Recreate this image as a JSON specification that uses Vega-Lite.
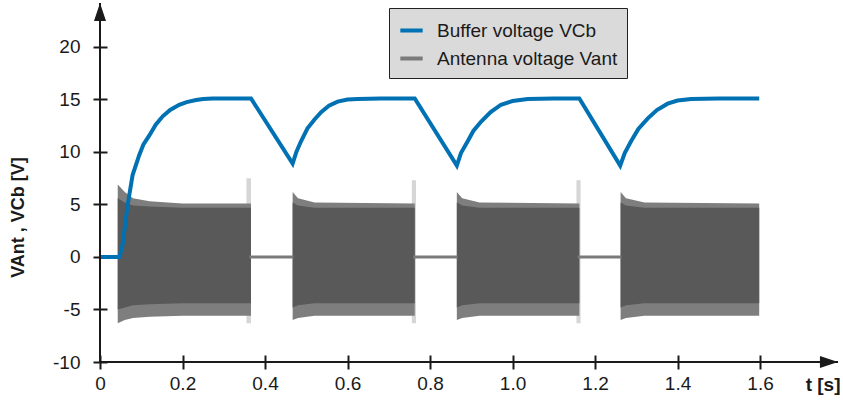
{
  "$schema": "https://vega.github.io/schema/vega-lite/v6.json",
  "width": 738,
  "height": 359,
  "autosize": {"type": "none"},
  "padding": {"left": 100, "top": 3, "right": 5, "bottom": 42},
  "background": "white",
  "config": {
    "view": {"stroke": null},
    "font": "Liberation Sans",
    "axis": {"grid": false, "domain": false, "tickColor": "#1a1a1a", "tickWidth": 2, "labelColor": "#1a1a1a", "labelFontSize": 19, "labelFont": "Liberation Sans"}
  },
  "datasets": {
    "blue": [
      {"t": 0, "v": 0, "series": "Buffer voltage VCb"},
      {"t": 0.047, "v": 0, "series": "Buffer voltage VCb"},
      {"t": 0.055, "v": 1.2, "series": "Buffer voltage VCb"},
      {"t": 0.06, "v": 2.8, "series": "Buffer voltage VCb"},
      {"t": 0.067, "v": 4.95, "series": "Buffer voltage VCb"},
      {"t": 0.079, "v": 7.8, "series": "Buffer voltage VCb"},
      {"t": 0.095, "v": 9.7, "series": "Buffer voltage VCb"},
      {"t": 0.105, "v": 10.7, "series": "Buffer voltage VCb"},
      {"t": 0.12, "v": 11.6, "series": "Buffer voltage VCb"},
      {"t": 0.135, "v": 12.6, "series": "Buffer voltage VCb"},
      {"t": 0.152, "v": 13.4, "series": "Buffer voltage VCb"},
      {"t": 0.17, "v": 14.0, "series": "Buffer voltage VCb"},
      {"t": 0.192, "v": 14.5, "series": "Buffer voltage VCb"},
      {"t": 0.21, "v": 14.75, "series": "Buffer voltage VCb"},
      {"t": 0.233, "v": 14.95, "series": "Buffer voltage VCb"},
      {"t": 0.25, "v": 15.05, "series": "Buffer voltage VCb"},
      {"t": 0.273, "v": 15.1, "series": "Buffer voltage VCb"},
      {"t": 0.366, "v": 15.1, "series": "Buffer voltage VCb"},
      {"t": 0.467, "v": 8.9, "series": "Buffer voltage VCb"},
      {"t": 0.476, "v": 10.0, "series": "Buffer voltage VCb"},
      {"t": 0.487, "v": 11.0, "series": "Buffer voltage VCb"},
      {"t": 0.503, "v": 12.25, "series": "Buffer voltage VCb"},
      {"t": 0.52, "v": 13.1, "series": "Buffer voltage VCb"},
      {"t": 0.536, "v": 13.8, "series": "Buffer voltage VCb"},
      {"t": 0.555, "v": 14.4, "series": "Buffer voltage VCb"},
      {"t": 0.576, "v": 14.8, "series": "Buffer voltage VCb"},
      {"t": 0.6, "v": 15.0, "series": "Buffer voltage VCb"},
      {"t": 0.625, "v": 15.05, "series": "Buffer voltage VCb"},
      {"t": 0.68, "v": 15.1, "series": "Buffer voltage VCb"},
      {"t": 0.763, "v": 15.1, "series": "Buffer voltage VCb"},
      {"t": 0.865, "v": 8.7, "series": "Buffer voltage VCb"},
      {"t": 0.875, "v": 9.9, "series": "Buffer voltage VCb"},
      {"t": 0.891, "v": 11.0, "series": "Buffer voltage VCb"},
      {"t": 0.905, "v": 12.0, "series": "Buffer voltage VCb"},
      {"t": 0.924, "v": 12.9, "series": "Buffer voltage VCb"},
      {"t": 0.947, "v": 13.8, "series": "Buffer voltage VCb"},
      {"t": 0.972, "v": 14.5, "series": "Buffer voltage VCb"},
      {"t": 1.0, "v": 14.85, "series": "Buffer voltage VCb"},
      {"t": 1.037, "v": 15.05, "series": "Buffer voltage VCb"},
      {"t": 1.1, "v": 15.1, "series": "Buffer voltage VCb"},
      {"t": 1.162, "v": 15.1, "series": "Buffer voltage VCb"},
      {"t": 1.261, "v": 8.7, "series": "Buffer voltage VCb"},
      {"t": 1.272, "v": 9.9, "series": "Buffer voltage VCb"},
      {"t": 1.287, "v": 11.0, "series": "Buffer voltage VCb"},
      {"t": 1.305, "v": 12.2, "series": "Buffer voltage VCb"},
      {"t": 1.328, "v": 13.2, "series": "Buffer voltage VCb"},
      {"t": 1.35, "v": 14.0, "series": "Buffer voltage VCb"},
      {"t": 1.376, "v": 14.6, "series": "Buffer voltage VCb"},
      {"t": 1.4, "v": 14.9, "series": "Buffer voltage VCb"},
      {"t": 1.433, "v": 15.05, "series": "Buffer voltage VCb"},
      {"t": 1.5, "v": 15.1, "series": "Buffer voltage VCb"},
      {"t": 1.598, "v": 15.1, "series": "Buffer voltage VCb"}
    ],
    "flat": [
      {"seg": "a", "t": 0.362, "v": 0, "series": "Antenna voltage Vant"},
      {"seg": "a", "t": 0.469, "v": 0, "series": "Antenna voltage Vant"},
      {"seg": "b", "t": 0.759, "v": 0, "series": "Antenna voltage Vant"},
      {"seg": "b", "t": 0.867, "v": 0, "series": "Antenna voltage Vant"},
      {"seg": "c", "t": 1.158, "v": 0, "series": "Antenna voltage Vant"},
      {"seg": "c", "t": 1.264, "v": 0, "series": "Antenna voltage Vant"}
    ],
    "spike": [
      {"seg": "s1", "t": 0.355, "lo": -6.3, "hi": 7.5},
      {"seg": "s1", "t": 0.366, "lo": -6.3, "hi": 7.5},
      {"seg": "s2", "t": 0.756, "lo": -6.3, "hi": 7.3},
      {"seg": "s2", "t": 0.766, "lo": -6.3, "hi": 7.3},
      {"seg": "s3", "t": 1.155, "lo": -6.3, "hi": 7.3},
      {"seg": "s3", "t": 1.165, "lo": -6.3, "hi": 7.3}
    ],
    "band": [
      {"seg": 1, "t": 0.043, "lo": -6.3, "hi": 6.9, "ilo": -5.0, "ihi": 5.6},
      {"seg": 1, "t": 0.06, "lo": -6.0, "hi": 6.2, "ilo": -4.8, "ihi": 5.2},
      {"seg": 1, "t": 0.08, "lo": -5.8, "hi": 5.6, "ilo": -4.6, "ihi": 4.9},
      {"seg": 1, "t": 0.12, "lo": -5.7, "hi": 5.3, "ilo": -4.5, "ihi": 4.8},
      {"seg": 1, "t": 0.2, "lo": -5.6, "hi": 5.1, "ilo": -4.4, "ihi": 4.7},
      {"seg": 1, "t": 0.366, "lo": -5.6, "hi": 5.1, "ilo": -4.4, "ihi": 4.7},
      {"seg": 2, "t": 0.467, "lo": -6.0, "hi": 6.2, "ilo": -4.8, "ihi": 5.2},
      {"seg": 2, "t": 0.48, "lo": -5.8, "hi": 5.6, "ilo": -4.6, "ihi": 4.9},
      {"seg": 2, "t": 0.52, "lo": -5.6, "hi": 5.2, "ilo": -4.4, "ihi": 4.7},
      {"seg": 2, "t": 0.763, "lo": -5.6, "hi": 5.1, "ilo": -4.4, "ihi": 4.7},
      {"seg": 3, "t": 0.865, "lo": -6.0, "hi": 6.2, "ilo": -4.8, "ihi": 5.2},
      {"seg": 3, "t": 0.878, "lo": -5.8, "hi": 5.6, "ilo": -4.6, "ihi": 4.9},
      {"seg": 3, "t": 0.92, "lo": -5.6, "hi": 5.2, "ilo": -4.4, "ihi": 4.7},
      {"seg": 3, "t": 1.162, "lo": -5.6, "hi": 5.1, "ilo": -4.4, "ihi": 4.7},
      {"seg": 4, "t": 1.262, "lo": -6.0, "hi": 6.2, "ilo": -4.8, "ihi": 5.2},
      {"seg": 4, "t": 1.275, "lo": -5.8, "hi": 5.6, "ilo": -4.6, "ihi": 4.9},
      {"seg": 4, "t": 1.32, "lo": -5.6, "hi": 5.2, "ilo": -4.4, "ihi": 4.7},
      {"seg": 4, "t": 1.598, "lo": -5.6, "hi": 5.1, "ilo": -4.4, "ihi": 4.7}
    ]
  },
  "layer": [
    {
      "data": {"name": "spike"},
      "mark": {"type": "area", "color": "#d6d6d6"},
      "encoding": {
        "x": {"field": "t", "type": "quantitative", "scale": {"domain": [0, 1.789], "nice": false, "zero": false},
          "axis": {"orient": "bottom", "offset": -7, "values": [0, 0.2, 0.4, 0.6, 0.8, 1.0, 1.2, 1.4, 1.6], "labelExpr": "datum.value == 0 ? '0' : format(datum.value, '.1f')", "tickSize": 14, "labelPadding": 5, "title": "t [s]", "titleFontSize": 19, "titleFontWeight": "bold", "titleColor": "#1a1a1a", "titleAnchor": "end", "titleAlign": "right", "titleBaseline": "middle", "titleX": 740, "titleY": 29, "labelFlush": false}},
        "y": {"field": "lo", "type": "quantitative", "scale": {"domain": [-10, 24.19], "nice": false, "zero": false},
          "axis": {"orient": "left", "offset": -7, "values": [-10, -5, 0, 5, 10, 15, 20], "labelExpr": "'' + datum.value", "tickSize": 14, "labelPadding": 13, "title": "VAnt ,  VCb [V]", "titleFontSize": 18, "titleFontWeight": "bold", "titleColor": "#1a1a1a", "titleAngle": -90, "titleX": -89, "titleY": 214, "titleAlign": "center", "titleBaseline": "middle", "titleAnchor": null}},
        "y2": {"field": "hi"},
        "detail": {"field": "seg"}
      }
    },
    {
      "data": {"name": "band"},
      "mark": {"type": "area", "color": "#7e7e7e"},
      "encoding": {
        "x": {"field": "t", "type": "quantitative"},
        "y": {"field": "lo", "type": "quantitative"},
        "y2": {"field": "hi"},
        "detail": {"field": "seg"}
      }
    },
    {
      "data": {"name": "band"},
      "mark": {"type": "area", "color": "#595959"},
      "encoding": {
        "x": {"field": "t", "type": "quantitative"},
        "y": {"field": "ilo", "type": "quantitative"},
        "y2": {"field": "ihi"},
        "detail": {"field": "seg"}
      }
    },
    {
      "data": {"name": "flat"},
      "mark": {"type": "line", "strokeWidth": 3},
      "encoding": {
        "x": {"field": "t", "type": "quantitative"},
        "y": {"field": "v", "type": "quantitative"},
        "detail": {"field": "seg"},
        "color": {"field": "series", "type": "nominal", "scale": {"domain": ["Buffer voltage VCb", "Antenna voltage Vant"], "range": ["#0071b3", "#7a7a7a"]},
          "legend": {"orient": "none", "legendX": 289, "legendY": 5, "title": null, "fillColor": "#dadada", "strokeColor": "#222222", "padding": 9, "labelFontSize": 19, "labelLimit": 400, "labelColor": "#1a1a1a", "symbolType": "stroke", "symbolSize": 500, "symbolStrokeWidth": 4, "labelOffset": 12, "rowPadding": 4, "symbolOpacity": 1}}
      }
    },
    {
      "data": {"name": "blue"},
      "mark": {"type": "line", "strokeWidth": 4},
      "encoding": {
        "x": {"field": "t", "type": "quantitative"},
        "y": {"field": "v", "type": "quantitative"},
        "color": {"field": "series", "type": "nominal"}
      }
    },
    {
      "data": {"values": [{}]},
      "mark": {"type": "rule", "color": "#1a1a1a", "strokeWidth": 2},
      "encoding": {"x": {"datum": 0, "type": "quantitative"}}
    },
    {
      "data": {"values": [{}]},
      "mark": {"type": "rule", "color": "#1a1a1a", "strokeWidth": 2},
      "encoding": {"y": {"datum": -10, "type": "quantitative"}}
    },
    {
      "data": {"values": [{}]},
      "mark": {"type": "point", "shape": "M0,-1.5L1,1.5L-1,1.5Z", "filled": true, "color": "#1a1a1a", "size": 144, "opacity": 1, "clip": false},
      "encoding": {
        "x": {"datum": 0, "type": "quantitative"},
        "y": {"datum": 23.33, "type": "quantitative"}
      }
    },
    {
      "data": {"values": [{}]},
      "mark": {"type": "point", "shape": "M1.5,0L-1.5,1L-1.5,-1Z", "filled": true, "color": "#1a1a1a", "size": 144, "opacity": 1, "clip": false},
      "encoding": {
        "x": {"datum": 1.767, "type": "quantitative"},
        "y": {"datum": -10, "type": "quantitative"}
      }
    }
  ]
}
